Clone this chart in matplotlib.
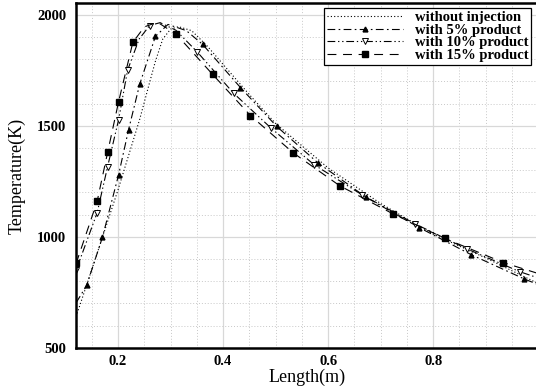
import numpy as np
import matplotlib.pyplot as plt
from matplotlib.lines import Line2D
from matplotlib.ticker import MultipleLocator

plt.rcParams['font.family'] = ['Liberation Serif', 'DejaVu Serif']

# data
x_none = [0.12, 0.16, 0.20, 0.241, 0.26, 0.271, 0.285, 0.30, 0.315, 0.34, 0.37, 0.40, 0.45, 0.50, 0.60, 0.70, 0.80, 0.90, 1.0]
t_none = [641, 925, 1213, 1528, 1695, 1790, 1890, 1935, 1946, 1928, 1858, 1776, 1640, 1510, 1310, 1150, 1012, 905, 790]

x_5 = [0.12, 0.14, 0.17, 0.201, 0.22, 0.241, 0.271, 0.295, 0.33, 0.361, 0.433, 0.502, 0.58, 0.673, 0.774, 0.873, 0.974, 1.0]
t_5 = [703, 781, 997, 1280, 1483, 1686, 1902, 1956, 1928, 1866, 1672, 1497, 1334, 1177, 1041, 919, 810, 785]
mk_5 = [1, 2, 3, 4, 5, 6, 9, 10, 11, 12, 13, 14, 15, 16]

x_10 = [0.12, 0.16, 0.18, 0.201, 0.218, 0.24, 0.26, 0.28, 0.31, 0.35, 0.42, 0.491, 0.573, 0.664, 0.765, 0.864, 0.965, 1.0]
t_10 = [850, 1108, 1316, 1528, 1750, 1890, 1951, 1964, 1930, 1834, 1646, 1490, 1325, 1190, 1059, 946, 843, 815]
mk_10 = [0, 1, 2, 3, 4, 6, 9, 10, 11, 12, 13, 14, 15, 16]

x_15 = [0.12, 0.16, 0.18, 0.201, 0.228, 0.25, 0.275, 0.311, 0.38, 0.452, 0.533, 0.622, 0.723, 0.822, 0.934, 1.0]
t_15 = [880, 1159, 1380, 1609, 1875, 1945, 1966, 1911, 1731, 1546, 1379, 1230, 1104, 993, 884, 835]
mk_15 = [0, 1, 2, 3, 4, 7, 8, 9, 10, 11, 12, 13, 14]

labels = ['without injection', 'with 5% product', 'with 10% product', 'with 15% product']

fig = plt.figure(figsize=(5.36, 3.87), dpi=100)
ax = fig.add_axes([0.142, 0.101, 0.862, 0.891])

ls_none = (0, (1, 2))
ls_5 = (0, (7, 3, 1.5, 3))
ls_10 = (0, (7, 2.5, 1.2, 2.5, 1.2, 2.5))
ls_15 = (0, (8, 6))

lw = 0.8
ax.plot(x_none, t_none, color='black', lw=lw, ls=ls_none)
ax.plot(x_5, t_5, color='black', lw=lw, ls=ls_5, marker='^', ms=3.5,
        markevery=mk_5, mfc='black', mec='black')
ax.plot(x_10, t_10, color='black', lw=lw, ls=ls_10, marker='v', ms=4.5,
        markevery=mk_10, mfc='white', mec='black', mew=0.7)
ax.plot(x_15, t_15, color='black', lw=lw, ls=ls_15, marker='s', ms=4,
        markevery=mk_15, mfc='black', mec='black')

ax.set_xlim(0.12, 1.0)
ax.set_ylim(500, 2052)
ax.xaxis.set_minor_locator(MultipleLocator(0.05))
ax.yaxis.set_major_locator(MultipleLocator(500))
ax.yaxis.set_minor_locator(MultipleLocator(100))
ax.set_xticks([0.2, 0.4, 0.6, 0.8, 1.0])
ax.set_xticklabels(['0.2', '0.4', '0.6', '0.8', '1'])

ax.grid(which='major', color='#d8d8d8', lw=0.9, ls='-')
ax.grid(which='minor', color='#c8c8c8', lw=0.7, ls=(0, (1, 2)))
ax.set_axisbelow(True)

ax.tick_params(which='both', length=0)
ax.tick_params(axis='y', pad=7)
ax.tick_params(axis='x', pad=5)
for lab in ax.get_xticklabels() + ax.get_yticklabels():
    lab.set_fontweight('bold')
    lab.set_fontsize(10.5)

for side in ['left', 'bottom', 'top']:
    ax.spines[side].set_linewidth(1.8)
ax.spines['right'].set_visible(False)

ax.set_xlabel('Length(m)', fontsize=13, labelpad=0.5)
ax.set_ylabel('Temperature(K)', fontsize=13, labelpad=8)

handles = [
    Line2D([], [], color='black', lw=lw, ls=ls_none),
    Line2D([], [], color='black', lw=lw, ls=ls_5, marker='^', ms=3.5, mfc='black'),
    Line2D([], [], color='black', lw=lw, ls=ls_10, marker='v', ms=4.5, mfc='white', mew=0.7),
    Line2D([], [], color='black', lw=lw, ls=ls_15, marker='s', ms=4, mfc='black'),
]
leg = fig.legend(handles, labels, loc='upper right', bbox_to_anchor=(0.991, 0.979),
                 prop={'weight': 'bold', 'size': 10.5}, fancybox=False, framealpha=1,
                 edgecolor='black', handlelength=5.2, handletextpad=0.8,
                 labelspacing=-0.05, borderpad=0.2, borderaxespad=0)
leg.get_frame().set_linewidth(0.9)

fig.savefig('out.png', dpi=100)
